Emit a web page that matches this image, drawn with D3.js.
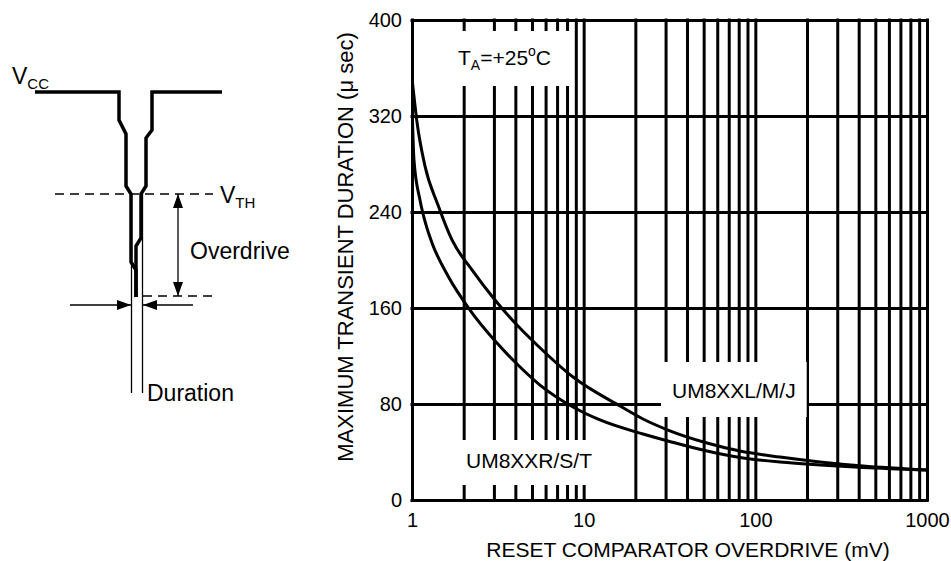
<!DOCTYPE html>
<html>
<head>
<meta charset="utf-8">
<script src="https://cdn.jsdelivr.net/npm/d3@7"></script>
<style>
  body { margin: 0; background: #fff; }
  svg { display: block; }
  text { font-family: "Liberation Sans", Arial, sans-serif; fill: #000; }
</style>
</head>
<body>
<div id="chart"></div>
<script>
// grid lines and labels
const gridX = [1, 2, 3, 4, 5, 6, 7, 8, 9, 10, 20, 30, 40, 50, 60, 70, 80, 90, 100,
  200, 300, 400, 500, 600, 700, 800, 900, 1000];
const labelX = [1, 10, 100, 1000];
const ticksY = [0, 80, 160, 240, 320, 400];

// UM8XXL/M/J (upper curve)
const upperMv = [1, 1.069, 1.19, 1.417, 1.71, 2.236, 3.044, 4.089, 5.349, 8.667, 16.28, 22.16,
  30.99, 52.29, 81.4, 139.2, 238.1, 423.9, 1000];
const upperUs = [351.7, 315, 278.3, 245.8, 216.7, 191.7, 166.7, 145.8, 129.2, 102.5, 78.3, 67.5,
  58.3, 47.5, 40.8, 35.8, 31.7, 28.3, 25];

// UM8XXR/S/T (lower curve)
const lowerMv = [1, 1.027, 1.113, 1.207, 1.308, 1.621, 2.177, 3.127, 4.089, 5.567, 8.667, 12.45, 22.16,
  30.99, 52.29, 81.4, 139.2, 238.1, 423.9, 1000];
const lowerUs = [330, 283.3, 250, 229.2, 214.2, 186.7, 158.3, 130.8, 113.3, 95.8, 77.5, 66.7, 55,
  49.2, 40.8, 35.4, 31.7, 29.2, 27.1, 25];

const W = 951, H = 561;
const plot = { left: 412, right: 927, top: 20, bottom: 500 };
const font = '"Liberation Sans", Arial, sans-serif';

const svg = d3.select('#chart').append('svg')
  .attr('width', W)
  .attr('height', H);

svg.append('rect').attr('width', W).attr('height', H).attr('fill', '#fff');

const x = d3.scaleLog().domain([1, 1000]).range([plot.left, plot.right]);
const y = d3.scaleLinear().domain([0, 400]).range([plot.bottom, plot.top]);

// ---- grid + axes ----
const gridLayer = svg.append('g');

const gx = gridLayer.append('g')
  .attr('transform', `translate(0,${plot.bottom})`)
  .call(d3.axisBottom(x)
    .tickValues(gridX)
    .tickSize(-(plot.bottom - plot.top))
    .tickPadding(13)
    .tickFormat(d => labelX.includes(d) ? String(d) : ''));
gx.select('.domain').remove();

const gy = gridLayer.append('g')
  .attr('transform', `translate(${plot.left},0)`)
  .call(d3.axisLeft(y)
    .tickValues(ticksY)
    .tickSize(-(plot.right - plot.left))
    .tickPadding(10));
gy.select('.domain').remove();

gridLayer.selectAll('.tick line')
  .attr('stroke', '#000')
  .attr('stroke-width', 3)
  .attr('stroke-linecap', 'square');
gridLayer.selectAll('g').attr('font-family', font).attr('font-size', 20);
gridLayer.selectAll('.tick text').attr('fill', '#000');

// layers
const boxLayer = svg.append('g');
const curveLayer = svg.append('g');
const textLayer = svg.append('g');

svg.append('clipPath').attr('id', 'plotClip')
  .append('rect')
  .attr('x', plot.left).attr('y', plot.top)
  .attr('width', plot.right - plot.left)
  .attr('height', plot.bottom - plot.top);

// ---- curves ----
const line = d3.line()
  .x(d => x(d[0]))
  .y(d => y(d[1]))
  .curve(d3.curveMonotoneX);

[[upperMv, upperUs], [lowerMv, lowerUs]].forEach(([xs, ys]) => {
  curveLayer.append('path')
    .datum(xs.map((v, i) => [v, ys[i]]))
    .attr('clip-path', 'url(#plotClip)')
    .attr('fill', 'none')
    .attr('stroke', '#000')
    .attr('stroke-width', 3)
    .attr('d', line);
});

// ---- labels in the plot (white box interrupts the grid) ----
function label(parts, px, py, padX, padT, padB) {
  const t = textLayer.append('text')
    .attr('x', px).attr('y', py)
    .attr('font-size', 21);
  parts.forEach(p => {
    const s = t.append('tspan').text(p.text);
    if (p.size) s.attr('font-size', p.size);
    if (p.dy) s.attr('dy', p.dy);
  });
  const b = t.node().getBBox();
  boxLayer.append('rect')
    .attr('x', b.x - padX).attr('y', b.y - padT)
    .attr('width', b.width + 2 * padX)
    .attr('height', b.height + padT + padB)
    .attr('fill', '#fff');
}

label([
  { text: 'T' }, { text: 'A', size: 14, dy: 5 }, { text: '=+25', dy: -5 },
  { text: 'o', size: 14, dy: -9 }, { text: 'C', dy: 9 }
], 458, 65, 20, 12, 13);
label([{ text: 'UM8XXR/S/T' }], 466, 468, 10, 9, 13);
label([{ text: 'UM8XXL/M/J' }], 672, 398, 11, 17, 15);

// axis titles
svg.append('text')
  .attr('x', 688).attr('y', 557)
  .attr('text-anchor', 'middle')
  .attr('font-size', 21)
  .text('RESET COMPARATOR OVERDRIVE (mV)');

svg.append('text')
  .attr('transform', 'translate(353,247) rotate(-90)')
  .attr('text-anchor', 'middle')
  .attr('font-size', 22)
  .text('MAXIMUM TRANSIENT DURATION (\u03bc sec)');

// ---- schematic on the left ----
const dia = svg.append('g');
const pl = d3.line();

dia.append('path')
  .attr('d', pl([[35, 92], [119, 92], [119, 120], [126, 134], [126, 186], [131, 194],
    [131, 262], [136, 270], [136, 297]]))
  .attr('fill', 'none').attr('stroke', '#000').attr('stroke-width', 3.5);
dia.append('path')
  .attr('d', pl([[222, 92], [152, 92], [152, 130], [146, 138], [146, 186], [141, 194],
    [141, 238], [136, 246], [136, 297]]))
  .attr('fill', 'none').attr('stroke', '#000').attr('stroke-width', 3.5);

function thin(x1, y1, x2, y2, dash) {
  const l = dia.append('line')
    .attr('x1', x1).attr('y1', y1).attr('x2', x2).attr('y2', y2)
    .attr('stroke', '#000').attr('stroke-width', 1.3);
  if (dash) l.attr('stroke-dasharray', dash);
}
function head(tx, ty, dx, dy) {
  const len = 14, hw = 5;
  const bx = tx - dx * len, by = ty - dy * len;
  dia.append('path')
    .attr('d', `M${tx},${ty}L${bx - dy * hw},${by + dx * hw}L${bx + dy * hw},${by - dx * hw}Z`)
    .attr('fill', '#000');
}

thin(55, 194, 213, 194, '9,6');
thin(143, 296, 212, 296, '9,6');
thin(178, 194, 178, 296);
head(178, 194, 0, -1);
head(178, 296, 0, 1);
thin(131.5, 194, 131.5, 393);
thin(142.5, 194, 142.5, 393);
thin(70, 305, 131, 305);
head(131, 305, 1, 0);
thin(193, 305, 143, 305);
head(143, 305, -1, 0);

const vcc = dia.append('text').attr('x', 12).attr('y', 84).attr('font-size', 23);
vcc.append('tspan').text('V');
vcc.append('tspan').text('CC').attr('font-size', 15).attr('dy', 5);

const vth = dia.append('text').attr('x', 220).attr('y', 203).attr('font-size', 23);
vth.append('tspan').text('V');
vth.append('tspan').text('TH').attr('font-size', 15).attr('dy', 5);

dia.append('text').attr('x', 190).attr('y', 259).attr('font-size', 23).text('Overdrive');
dia.append('text').attr('x', 147).attr('y', 401).attr('font-size', 23).text('Duration');
</script>
</body>
</html>
